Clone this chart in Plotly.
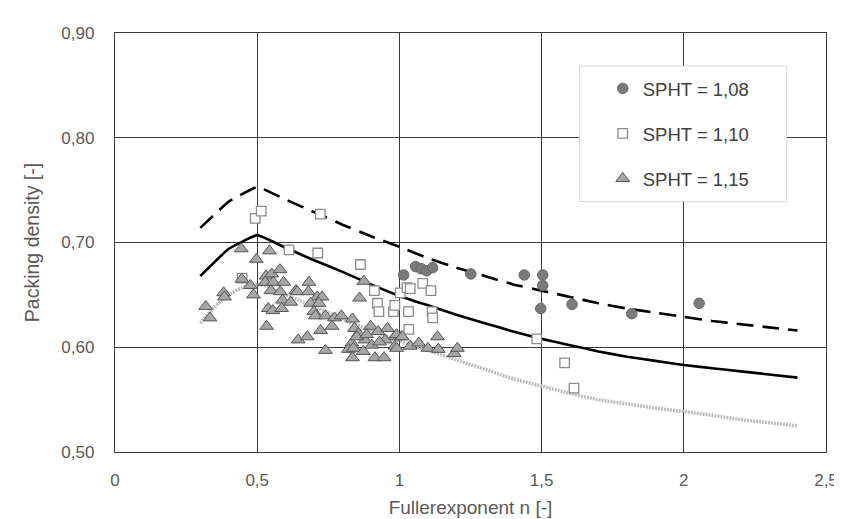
import plotly.graph_objects as go

# ---- data ----
curve_x = [0.3, 0.4, 0.5, 0.6, 0.7, 0.8, 0.9, 1.0, 1.1, 1.2, 1.3, 1.4, 1.5, 1.6, 1.7,
           1.8, 1.9, 2.0, 2.1, 2.2, 2.3, 2.4]
dashed_y = [0.714, 0.739, 0.753, 0.741, 0.729, 0.717, 0.706, 0.696, 0.685, 0.676, 0.668,
            0.660, 0.654, 0.648, 0.642, 0.637, 0.633, 0.629, 0.625, 0.622, 0.619, 0.616]
solid_y = [0.668, 0.694, 0.707, 0.695, 0.683, 0.672, 0.660, 0.649, 0.640, 0.631, 0.623,
           0.615, 0.608, 0.602, 0.596, 0.591, 0.587, 0.583, 0.580, 0.577, 0.574, 0.571]
gray_y = [0.623, 0.650, 0.660, 0.650, 0.639, 0.627, 0.616, 0.606, 0.597, 0.588, 0.579,
          0.570, 0.563, 0.556, 0.550, 0.546, 0.542, 0.5385, 0.535, 0.531, 0.528, 0.525]

sph108_x = [1.015, 1.057, 1.077, 1.096, 1.117, 1.251, 1.439, 1.504, 1.504, 1.497, 1.607, 1.817, 2.054]
sph108_y = [0.669, 0.677, 0.675, 0.673, 0.676, 0.670, 0.669, 0.669, 0.659, 0.637, 0.641, 0.632, 0.642]

sph110_x = [0.447, 0.493, 0.514, 0.612, 0.722, 0.713, 0.863, 0.912, 0.923, 0.928, 0.979, 0.984,
            1.003, 1.027, 1.038, 1.082, 1.111, 1.032, 1.115, 1.117, 1.033, 1.483, 1.581, 1.614]
sph110_y = [0.666, 0.723, 0.730, 0.693, 0.727, 0.690, 0.679, 0.654, 0.642, 0.634, 0.634, 0.640,
            0.652, 0.657, 0.656, 0.661, 0.654, 0.634, 0.634, 0.628, 0.617, 0.608, 0.585, 0.561]

sph115_x = [0.319, 0.334, 0.382, 0.385, 0.444, 0.446, 0.476, 0.487, 0.497, 0.543, 0.531, 0.551,
            0.580, 0.528, 0.557, 0.593, 0.548, 0.581, 0.589, 0.618, 0.539, 0.555, 0.586, 0.533,
            0.636, 0.641, 0.644, 0.676, 0.682, 0.680, 0.711, 0.728, 0.688, 0.717, 0.699, 0.705,
            0.740, 0.772, 0.796, 0.763, 0.723, 0.835, 0.842, 0.856, 0.899, 0.925, 0.958, 0.984,
            0.740, 0.833, 0.879, 0.903, 0.821, 0.838, 0.873, 0.835, 0.914, 0.946, 0.984, 1.007,
            0.860, 0.875, 0.990, 1.010, 0.990, 1.038, 1.068, 1.100, 1.134, 1.137, 1.193, 1.204,
            0.850, 0.885, 0.950, 0.930]
sph115_y = [0.639, 0.628, 0.652, 0.648, 0.694, 0.665, 0.659, 0.650, 0.684, 0.692, 0.668, 0.670,
            0.674, 0.662, 0.662, 0.662, 0.654, 0.653, 0.645, 0.643, 0.637, 0.635, 0.637, 0.620,
            0.654, 0.653, 0.607, 0.610, 0.662, 0.653, 0.648, 0.648, 0.642, 0.642, 0.634, 0.630,
            0.630, 0.628, 0.630, 0.620, 0.616, 0.627, 0.618, 0.613, 0.620, 0.615, 0.618, 0.610,
            0.597, 0.604, 0.607, 0.602, 0.598, 0.599, 0.596, 0.590, 0.590, 0.590, 0.601, 0.610,
            0.647, 0.663, 0.612, 0.610, 0.599, 0.601, 0.604, 0.599, 0.610, 0.598, 0.594, 0.599,
            0.610, 0.612, 0.607, 0.605]

x_ticks = [0, 0.5, 1, 1.5, 2, 2.5]
y_ticks = [0.5, 0.6, 0.7, 0.8, 0.9]

FONT = "Liberation Sans, Arial, sans-serif"
TXT = "#595959"
GRID = "#3a3a3a"

fig = go.Figure()
fig.add_trace(go.Scatter(x=curve_x, y=gray_y, mode="lines", line_shape="spline",
                         line=dict(color="#bdbdbd", width=3.5, dash="2px,1px"), showlegend=False))
fig.add_trace(go.Scatter(x=curve_x, y=solid_y, mode="lines", line_shape="spline",
                         line=dict(color="black", width=2.6, smoothing=0.3), showlegend=False))
fig.add_trace(go.Scatter(x=curve_x, y=dashed_y, mode="lines", line_shape="spline",
                         line=dict(color="black", width=2.6, dash="17px,9px", smoothing=0.3),
                         showlegend=False))

fig.add_trace(go.Scatter(x=sph108_x, y=sph108_y, mode="markers", name="SPHT = 1,08",
                         legendgroup="a",
                         marker=dict(symbol="circle", size=10.5, color="#7a7a7a",
                                     line=dict(color="#666666", width=1))))
fig.add_trace(go.Scatter(x=sph110_x, y=sph110_y, mode="markers", name="SPHT = 1,10",
                         legendgroup="b",
                         marker=dict(symbol="square", size=9.5, color="white",
                                     line=dict(color="#8c8c8c", width=1.3))))
fig.add_trace(go.Scatter(x=sph115_x, y=sph115_y, mode="markers", name="SPHT = 1,15",
                         legendgroup="c",
                         marker=dict(symbol="triangle-up", size=12, color="#a6a6a6",
                                     line=dict(color="#555555", width=1))))

# legend frame
fig.add_shape(type="rect", xref="paper", yref="paper", x0=0.6535, x1=0.9446, y0=0.598, y1=0.921,
              line=dict(color="#d9d9d9", width=1), fillcolor="white", layer="above")

axis_common = dict(showgrid=True, gridcolor=GRID, gridwidth=1.3, showline=True, linecolor=GRID,
                   linewidth=1.3, mirror=True, zeroline=False, ticks="",
                   tickfont=dict(family=FONT, size=17, color=TXT))

fig.update_layout(
    width=842, height=519,
    margin=dict(l=107, r=17, t=25, b=71),
    paper_bgcolor="white", plot_bgcolor="white",
    separators=", ",
    font=dict(family=FONT, size=17, color=TXT),
    xaxis=dict(range=[0, 2.5], tickvals=x_ticks, tickformat="~g",
               title=dict(text="Fullerexponent n [-]", font=dict(family=FONT, size=19, color=TXT),
                          standoff=12),
               ticklabelstandoff=12, **axis_common),
    yaxis=dict(range=[0.5, 0.9], tickvals=y_ticks, tickformat=".2f",
               title=dict(text="Packing density [-]", font=dict(family=FONT, size=19.5, color=TXT),
                          standoff=16),
               ticklabelstandoff=16, **axis_common),
    legend=dict(x=0.686, xanchor="left", y=0.912, yanchor="top", bgcolor="rgba(0,0,0,0)",
                borderwidth=0, tracegroupgap=18, traceorder="grouped",
                font=dict(family=FONT, size=18.5, color="#404040")),
)

fig.write_html("out.html")
